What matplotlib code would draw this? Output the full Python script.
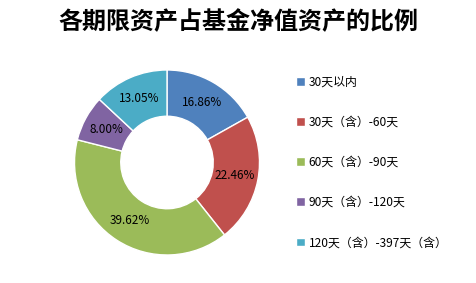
import matplotlib
matplotlib.use('Agg')
import matplotlib.pyplot as plt

plt.rcParams['font.family'] = ['Noto Sans CJK SC', 'DejaVu Sans']

labels = ['30天以内', '30天（含）-60天', '60天（含）-90天', '90天（含）-120天', '120天（含）-397天（含）']
values = [16.86, 22.46, 39.62, 8.00, 13.05]
colors = ['#4F81BD', '#C0504D', '#9BBB59', '#8064A2', '#4BACC6']
title = '各期限资产占基金净值资产的比例'

fig = plt.figure(figsize=(4.76, 2.83), dpi=100)
ax = fig.add_axes([0.1565, 0.099, 0.3887, 0.6537])

wedges, texts, autotexts = ax.pie(
    values, colors=colors, startangle=90, counterclock=False,
    autopct='%.2f%%', pctdistance=0.75, radius=1,
    wedgeprops=dict(width=0.5, edgecolor='white', linewidth=1),
    textprops=dict(fontsize=8.5, color='black'))
ax.set_xlim(-1, 1)
ax.set_ylim(-1, 1)
ax.set_aspect('equal')
ax.axis('off')

fig.text(0.5, 0.92, title, ha='center', va='center', fontsize=17.3, fontweight='bold')

fig.legend(wedges, labels, loc='upper left', bbox_to_anchor=(0.61, 0.755),
           frameon=False, fontsize=8.6, labelspacing=2.28, handlelength=0.75,
           handleheight=0.75, handletextpad=0.3, borderpad=0)

fig.savefig('out.png', dpi=100)
